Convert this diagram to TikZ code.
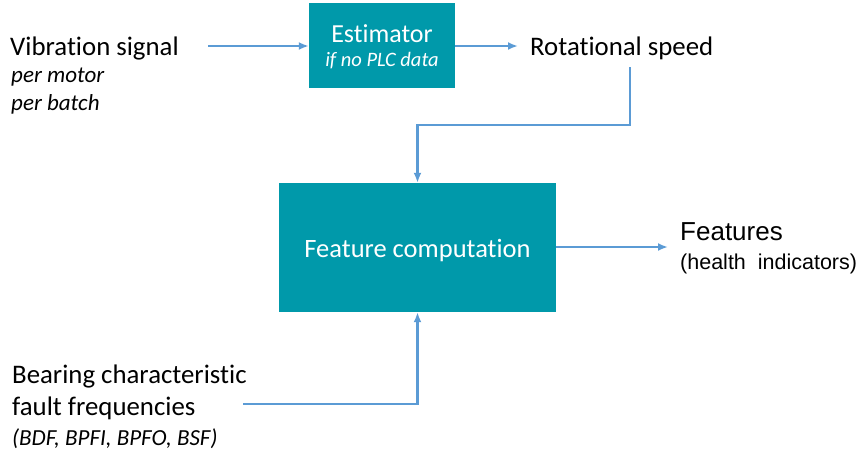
\documentclass[tikz,border=0pt]{standalone}
\usepackage{fontspec}
\setmainfont{Carlito}[Ligatures=CommonOff]
\newfontfamily\arialf{Liberation Sans}
\usetikzlibrary{arrows.meta}
\definecolor{boxteal}{HTML}{0099AA}
\definecolor{arrblue}{HTML}{5B9BD5}
\tikzset{
  procbox/.style={fill=boxteal, draw=none, inner sep=0pt},
  conn/.style={draw=arrblue, line width=2.2pt, -{Latex[length=10pt,width=8pt]}},
  lbl/.style={anchor=base west, inner sep=0pt, text=black},
  clbl/.style={anchor=base, inner sep=0pt, text=white},
}
\newcommand{\bigf}{\fontsize{26.8}{30}\selectfont}
\newcommand{\smallf}{\fontsize{23}{26}\selectfont\itshape}
\begin{document}
\begin{tikzpicture}[x=1pt,y=-1pt]
\useasboundingbox (0,0) rectangle (864,455);
% boxes
\node[procbox, minimum width=146pt, minimum height=85pt] (est) at (382,45.5) {};
\node[procbox, minimum width=277pt, minimum height=129pt] (fc) at (417.5,247.5) {};
% box texts
\node[clbl] (estt) at (382,42.5) {\fontsize{26}{28}\selectfont Estimator};
\node[clbl] (esti) at (382,66) {\fontsize{20.5}{22}\selectfont\itshape if no PLC data};
\node[clbl] (fct) at (417.5,257) {\fontsize{26.5}{28}\selectfont Feature computation};
% outside labels
\node[lbl] (vib) at (10,55) {\bigf Vibration signal};
\node[lbl] (vib1) at (11,82) {\smallf per motor};
\node[lbl] (vib2) at (11,110) {\smallf per batch};
\node[lbl] (rs) at (530,55) {\bigf Rotational speed};
\node[lbl] (feat) at (680,240) {\arialf\fontsize{26}{28}\selectfont Features};
\node[lbl] (feat1) at (680,269) {\arialf\fontsize{21.5}{24}\selectfont (health\ \ indicators)};
\node[lbl] (bear) at (12,383) {\bigf Bearing characteristic};
\node[lbl] (bear1) at (12,415) {\bigf fault frequencies};
\node[lbl] (bear2) at (12,445) {\smallf (BDF, BPFI, BPFO, BSF)};
% connector end points
\coordinate (vibend) at (208,46);
\coordinate (rsin) at (518,46);
\coordinate (rsdown) at (630,67);
\coordinate (rsbend) at (630,125);
\coordinate (featin) at (668,247);
\coordinate (bearend) at (243,404);
% connectors
\draw[conn] (vibend) -- (est.west |- vibend);
\draw[conn] (est.east |- rsin) -- (rsin);
\draw[conn] (rsdown) -- (rsbend) -| (fc.north);
\draw[conn] (fc.east |- featin) -- (featin);
\draw[conn] (bearend) -| (fc.south);
\end{tikzpicture}
\end{document}
